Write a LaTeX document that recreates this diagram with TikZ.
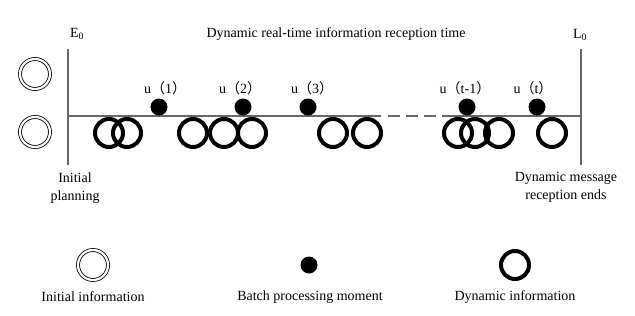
\documentclass[tikz,border=0pt]{standalone}
\usepackage{fontspec}
\setmainfont{Liberation Serif}
\newfontfamily\cjk{Noto Sans CJK SC}
\newcommand{\ulab}[1]{u{\cjk （}#1{\cjk ）}}
\begin{document}
\begin{tikzpicture}[x=1pt,y=-1pt,
  lbl/.style={font=\fontsize{14}{17}\selectfont, inner sep=0pt, align=center},
  axis/.style={draw=black!60, line width=1.3pt},
  initinfo/.style={circle, draw, double, double distance=2.2pt, line width=0.8pt, minimum size=30pt, inner sep=0pt},
  dyninfo/.style={circle, draw, line width=4pt, minimum size=28pt, inner sep=0pt},
  batch/.style={circle, fill, minimum size=17pt, inner sep=0pt},
]
\useasboundingbox (0,0) rectangle (635,316);
% axes
\coordinate (lt) at (68,49);
\coordinate (lb) at (68,165);
\coordinate (rt) at (581,49);
\coordinate (rb) at (581,165);
\coordinate (h0) at (68,116);
\coordinate (h1) at (381,116);
\coordinate (h2) at (449,116);
\coordinate (h3) at (581,116);
\draw[axis] (lt) -- (lb);
\draw[axis] (rt) -- (rb);
\draw[axis] (h0) -- (h1);
\draw[axis, dash pattern=on 12pt off 6pt] (388,116) coordinate (d0) -- (h2);
\draw[axis] (h2) -- (h3);
% labels
\node[lbl] (E0) at (77,34) {E\textsubscript{0}};
\node[lbl] (L0) at (580,35) {L\textsubscript{0}};
\node[lbl] (title) at (336,34) {Dynamic real-time information reception time};
\node[lbl] (ip) at (75,188) {Initial\\[1pt]planning};
\node[lbl] (dmre) at (566,187) {Dynamic message\\[1pt]reception ends};
% initial info
\node[initinfo] (i1) at (35,74) {};
\node[initinfo] (i2) at (35,132) {};
% dynamic info
\foreach \x [count=\i] in {109,127,193,224,252,333,367,458,475,499,552}
  \node[dyninfo] (c\i) at (\x,133) {};
% batch moments
\node[batch] (b1) at (159,107) {};
\node[batch] (b2) at (243,107) {};
\node[batch] (b3) at (308,107) {};
\node[batch] (b4) at (467,107) {};
\node[batch] (b5) at (537,107) {};
\node[lbl] (u1) at (165,88) {\ulab{1}};
\node[lbl] (u2) at (240,88) {\ulab{2}};
\node[lbl] (u3) at (312,88) {\ulab{3}};
\node[lbl] (u4) at (465,88) {\ulab{t-1}};
\node[lbl] (u5) at (533,88) {\ulab{t}};
% legend
\node[initinfo] (li) at (93,265) {};
\node[batch] (lb1) at (309,265) {};
\node[dyninfo] (ld) at (515,265) {};
\node[lbl] (lti) at (93,297) {Initial information};
\node[lbl] (ltb) at (310,297) {Batch processing moment};
\node[lbl] (ltd) at (515,297) {Dynamic information};
\end{tikzpicture}
\end{document}
